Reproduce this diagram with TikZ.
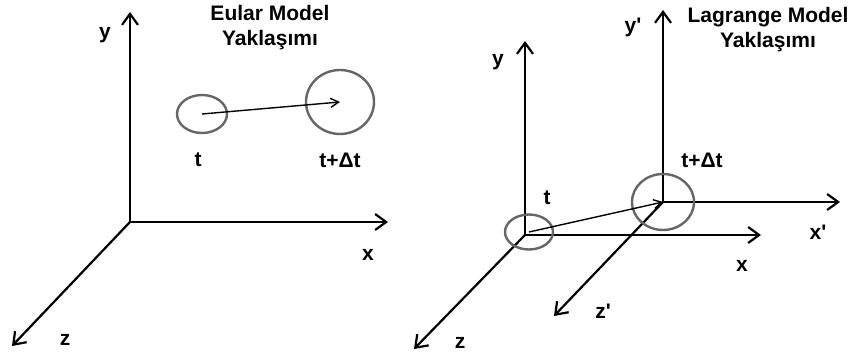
\documentclass[tikz,border=0pt]{standalone}
\usepackage{fontspec}
\setmainfont{Liberation Sans}
\usetikzlibrary{arrows.meta, shapes.geometric}

\begin{document}
\begin{tikzpicture}[x=1pt, y=-1pt,
          >={Straight Barb[length=11pt, width=16pt]},
          axis/.style={->, line width=2.2pt},
          lbl/.style={font=\fontsize{21}{25}\bfseries\selectfont, inner sep=0pt},
          title/.style={lbl, align=center},
          blob/.style={draw=black!60, line width=2.4pt, ellipse, inner sep=0pt},
          move/.style={-{Straight Barb[length=8pt, width=9pt]}, line width=1.4pt}
        ]
        \useasboundingbox (0,0) rectangle (859,358);

        % Euler
        \coordinate (O) at (130,222);
        \coordinate (Oy) at (130,12);
        \coordinate (Ox) at (388,222);
        \coordinate (Oz) at (12,346);
        \draw[axis] (O) -- (Oy);
        \draw[axis] (O) -- (Ox);
        \draw[axis] (O) -- (Oz);
        \node[lbl] (ly) at (105,35) {y};
        \node[lbl] (lx) at (368,255) {x};
        \node[lbl] (lz) at (65,340) {z};
        \node[title] (euler) at (270,28) {Eular Model\\Yaklaşımı};

        \node[blob, minimum width=50pt, minimum height=38pt] (e1) at (202,114) {};
        \node[blob, minimum width=68pt, minimum height=64pt] (e2) at (340,102) {};
        \draw[move] (e1.center) -- (e2.center);
        \node[lbl] (et1) at (198,160) {t};
        \node[lbl] (et2) at (340,160) {t+Δt};

        % Lagrange
        \coordinate (L) at (525,235);
        \coordinate (Ly) at (525,41);
        \coordinate (Lx) at (761,235);
        \coordinate (Lz) at (414,349);
        \draw[axis] (L) -- (Ly);
        \draw[axis] (L) -- (Lx);
        \draw[axis] (L) -- (Lz);
        \node[lbl] (my) at (498,62) {y};
        \node[lbl] (mx) at (742,266) {x};
        \node[lbl] (mz) at (460,343) {z};

        \coordinate (P) at (663,202);
        \coordinate (Py) at (663,10);
        \coordinate (Px) at (840,202);
        \coordinate (Pz) at (554,316);
        \draw[axis] (P) -- (Py);
        \draw[axis] (P) -- (Px);
        \draw[axis] (P) -- (Pz);
        \node[lbl] (py) at (633,27) {y\textquotesingle};
        \node[lbl] (px) at (818,232) {x\textquotesingle};
        \node[lbl] (pz) at (603,311) {z\textquotesingle};
        \node[title] (lagr) at (768,30) {Lagrange Model\\Yaklaşımı};

        \node[blob, minimum width=48pt, minimum height=35pt] (l1) at (529,232) {};
        \node[blob, minimum width=62pt, minimum height=56pt] (l2) at (663,202) {};
        \draw[move] (l1.center) -- (l2.center);
        \node[lbl] (lt1) at (547,198) {t};
        \node[lbl] (lt2) at (702,160) {t+Δt};
      \end{tikzpicture}
\end{document}
